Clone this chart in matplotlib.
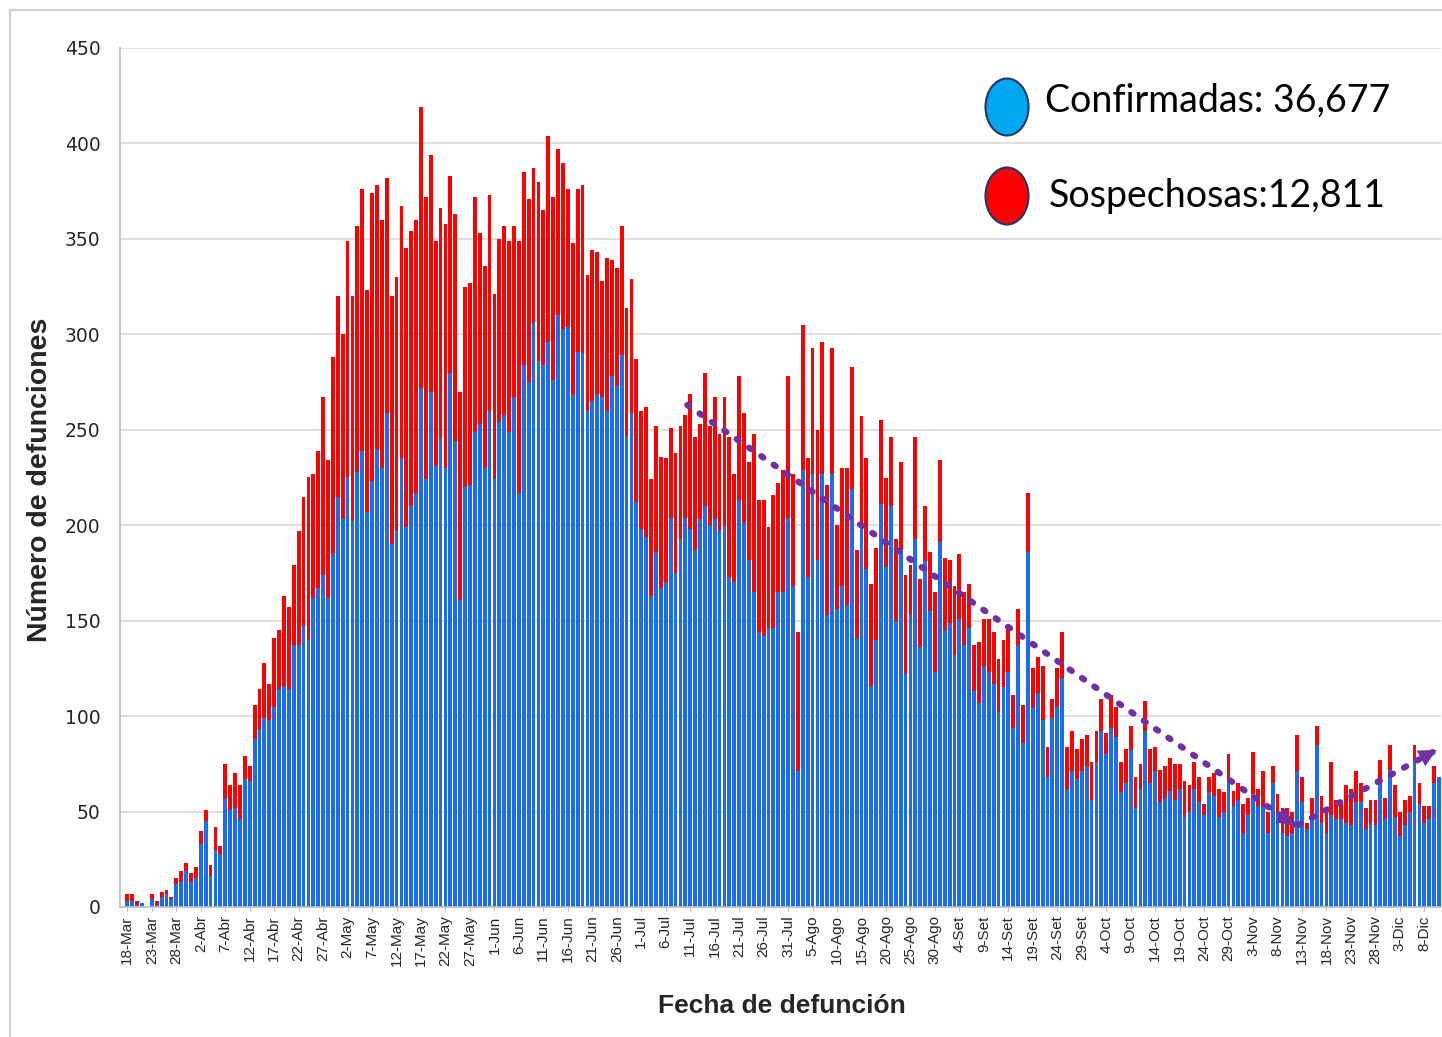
import matplotlib
matplotlib.use("Agg")
import matplotlib.pyplot as plt
import numpy as np
import pandas as pd
from matplotlib.patches import Ellipse, Rectangle

# daily totals (confirmed + suspected) and confirmed deaths
total = [
    7, 7, 3, 2, 0, 7, 3, 8, 9, 5, 15, 19, 23, 18, 21, 40, 51, 22, 42, 32,
    75, 64, 70, 64, 79, 74, 106, 114, 128, 117, 141, 145, 163, 157, 179, 197, 215, 225, 227, 239,
    267, 234, 288, 320, 300, 349, 320, 357, 376, 323, 374, 378, 360, 382, 320, 330, 367, 345, 354, 360,
    419, 372, 394, 349, 366, 358, 383, 363, 270, 325, 327, 372, 353, 336, 373, 321, 350, 357, 349, 357,
    349, 385, 371, 387, 380, 365, 404, 372, 397, 390, 376, 348, 376, 378, 331, 344, 343, 328, 340, 339,
    335, 357, 314, 329, 287, 260, 262, 224, 252, 236, 235, 251, 238, 252, 258, 269, 246, 253, 280, 252,
    267, 248, 267, 246, 227, 278, 259, 233, 248, 213, 213, 199, 216, 222, 229, 278, 227, 144, 305, 235,
    293, 250, 296, 221, 293, 200, 230, 230, 283, 187, 257, 235, 169, 188, 255, 225, 246, 193, 233, 174,
    179, 246, 172, 210, 186, 165, 234, 183, 182, 168, 185, 165, 169, 137, 139, 151, 151, 144, 130, 140,
    146, 111, 156, 106, 217, 125, 131, 126, 84, 109, 125, 144, 84, 92, 83, 88, 90, 76, 92, 109,
    91, 111, 105, 76, 83, 95, 68, 75, 108, 83, 84, 72, 74, 78, 75, 75, 66, 64, 76, 68,
    54, 68, 70, 62, 60, 80, 61, 65, 54, 57, 81, 62, 71, 50, 74, 59, 52, 52, 50, 90,
    68, 44, 57, 95, 58, 51, 76, 56, 54, 64, 62, 71, 65, 52, 56, 56, 77, 57, 85, 64,
    50, 56, 58, 85, 65, 53, 53, 74, 68,
]
confirmadas = [
    3, 3, 1, 2, 0, 4, 1, 5, 7, 4, 12, 13, 19, 13, 15, 33, 45, 16, 30, 28,
    57, 51, 52, 46, 67, 66, 88, 93, 99, 98, 105, 114, 116, 114, 137, 137, 147, 140, 162, 167,
    174, 162, 185, 215, 203, 225, 202, 228, 239, 207, 223, 240, 230, 259, 190, 197, 235, 199, 210, 217,
    272, 224, 270, 231, 245, 230, 280, 244, 161, 220, 221, 249, 253, 230, 260, 224, 254, 258, 249, 267,
    217, 284, 275, 306, 286, 284, 296, 276, 310, 303, 304, 268, 291, 290, 260, 265, 269, 267, 260, 278,
    273, 289, 247, 259, 212, 198, 194, 163, 186, 167, 170, 204, 175, 193, 204, 198, 187, 203, 210, 200,
    203, 197, 200, 173, 170, 213, 201, 182, 165, 144, 142, 146, 146, 165, 165, 204, 168, 71, 229, 173,
    227, 182, 227, 153, 227, 156, 168, 158, 219, 141, 200, 177, 116, 140, 211, 178, 210, 150, 187, 122,
    153, 193, 136, 181, 155, 123, 191, 145, 149, 132, 151, 137, 146, 113, 107, 126, 123, 117, 102, 115,
    123, 94, 137, 86, 186, 104, 112, 98, 68, 99, 105, 120, 62, 71, 67, 71, 74, 56, 76, 92,
    80, 94, 89, 60, 65, 82, 52, 62, 92, 65, 71, 55, 57, 61, 56, 62, 47, 50, 62, 55,
    48, 60, 58, 47, 50, 65, 53, 56, 38, 48, 59, 53, 53, 39, 65, 50, 39, 37, 39, 71,
    55, 41, 46, 85, 44, 38, 48, 46, 46, 44, 43, 55, 55, 41, 44, 43, 65, 46, 72, 47,
    37, 43, 50, 77, 54, 44, 46, 65, 68,
]
sospechosas = [t - c for t, c in zip(total, confirmadas)]

meses = {3: "Mar", 4: "Abr", 5: "May", 6: "Jun", 7: "Jul", 8: "Ago",
         9: "Set", 10: "Oct", 11: "Nov", 12: "Dic"}
fechas = pd.date_range("2020-03-18", periods=len(total), freq="D")
etiquetas = [f"{d.day}-{meses[d.month]}" for d in fechas]

leyenda = ["Confirmadas: 36,677", "Sospechosas:12,811"]

# trend arrows (bar index, value)
flecha_baja = [(114.4, 263), (239.0, 42)]
flecha_sube = [(239.3, 43), (268.0, 83)]

AZUL = "#1a6cf0"
ROJO = "#ff0000"
MORADO = "#7030a0"

W, H = 1442, 1037
fig = plt.figure(figsize=(W / 100, H / 100), dpi=100)
ax = fig.add_axes([120 / W, 1 - 907 / H, (1441 - 120) / W, (907 - 48) / H])

x = np.arange(len(total))
ax.bar(x, confirmadas, width=0.78, color=AZUL, linewidth=0, zorder=2)
ax.bar(x, sospechosas, width=0.78, bottom=confirmadas, color=ROJO, linewidth=0, zorder=2)

ax.set_ylim(0, 450)
ax.set_xlim(-1.5, len(total) - 0.6)
ax.set_yticks(range(0, 451, 50))
ax.yaxis.grid(True, color="#d9d9d9", lw=1.2, zorder=0)
ax.set_axisbelow(True)
ax.tick_params(axis="y", length=0, pad=14, labelsize=13.5, labelcolor="#262626")
ticks = x[::5]
ax.set_xticks(ticks)
ax.set_xticklabels([etiquetas[i] for i in ticks], rotation=90, fontsize=11,
                   family="Liberation Sans", color="#262626")
ax.tick_params(axis="x", length=3, color="#bfbfbf", pad=3)
for s in ("top", "right"):
    ax.spines[s].set_visible(False)
for s in ("left", "bottom"):
    ax.spines[s].set_color("#bfbfbf")
    ax.spines[s].set_linewidth(1.2)

fig.text(40 / W, 1 - 480 / H, "Número de defunciones", rotation=90, ha="center", va="center",
         fontsize=20.5, fontweight="bold", family="Liberation Sans", color="#262626")
fig.text(782 / W, 1 - 1006 / H, "Fecha de defunción", ha="center", va="center",
         fontsize=19, fontweight="bold", family="Liberation Sans", color="#262626")

# trend arrows
for (x0, y0), (x1, y1) in (flecha_baja, flecha_sube):
    ax.plot([x0, x1], [y0, y1], color=MORADO, lw=4.5, ls=(0, (0.4, 2.0)),
            dash_capstyle="round", zorder=4)
    ax.annotate("", xy=(x1, y1), xytext=(x1 - (x1 - x0) * 0.05, y1 - (y1 - y0) * 0.05),
                arrowprops=dict(arrowstyle="-|>", color=MORADO, lw=0, mutation_scale=32),
                zorder=5)

# legend with big circles
for k, (texto, fc) in enumerate(zip(leyenda, ["#00a8f0", ROJO])):
    cy = [107, 196][k]
    fig.add_artist(Ellipse((1007 / W, 1 - cy / H), 43 / W, 57 / H, transform=fig.transFigure,
                           facecolor=fc, edgecolor="#1f3864", lw=1.5))
    fig.text([1045, 1049][k] / W, 1 - [101, 196][k] / H, texto, ha="left", va="center",
             fontsize=27, family="Lato", color="black")

fig.add_artist(Rectangle((10 / W, -0.01), 1.0, 1.01 - 10 / H, transform=fig.transFigure,
                         fill=False, edgecolor="#d0d0d0", lw=1.5))

fig.savefig("out.png", dpi=100)
